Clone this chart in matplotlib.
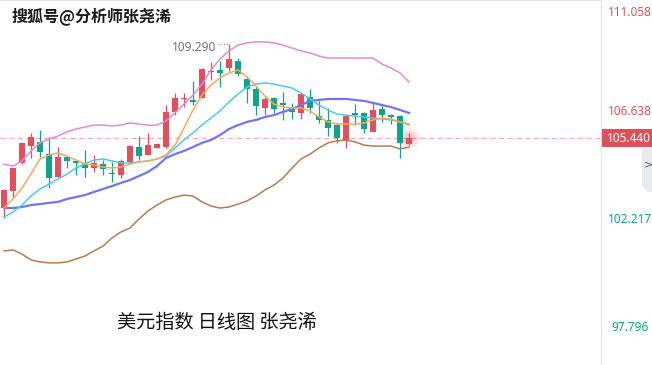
import numpy as np
import matplotlib
matplotlib.use("Agg")
import matplotlib.pyplot as plt
from matplotlib.patches import Rectangle, Polygon
import matplotlib.transforms as mtransforms

plt.rcParams['font.family'] = ['Noto Sans CJK SC', 'DejaVu Sans']

# daily candles
opens = [102.57, 103.27, 104.42, 105.11, 105.28, 104.78, 103.84, 104.66, 104.50, 104.42,
         104.21, 104.37, 104.01, 103.92, 104.46, 105.07, 104.74, 105.03, 105.07, 106.51,
         107.04, 107.00, 107.08, 108.15, 108.23, 108.31, 108.60, 107.86, 107.45, 106.67,
         107.08, 106.88, 106.67, 106.47, 107.12, 106.34, 106.18, 105.97, 105.32, 106.47,
         106.47, 105.69, 106.63, 106.38, 106.34, 105.19]
highs = [103.35, 104.21, 105.28, 105.65, 105.77, 105.48, 105.07, 104.70, 104.54, 104.95,
         104.74, 104.54, 104.46, 104.58, 105.15, 105.52, 105.65, 105.24, 106.79, 107.29,
         107.29, 107.78, 108.31, 108.56, 108.60, 109.29, 108.72, 107.98, 107.57, 107.12,
         107.12, 107.33, 106.88, 107.24, 107.45, 106.96, 106.67, 106.06, 106.34, 106.83,
         106.51, 106.88, 106.79, 106.42, 106.38, 105.65]
lows = [102.16, 103.02, 104.37, 104.62, 104.66, 103.39, 103.84, 104.21, 103.92, 103.84,
        104.05, 103.92, 103.64, 103.80, 104.37, 104.54, 104.74, 105.03, 105.03, 106.38,
        106.71, 106.79, 107.08, 107.82, 107.53, 108.19, 107.98, 106.88, 106.38, 106.38,
        106.47, 106.18, 106.22, 106.22, 106.47, 106.06, 105.52, 105.24, 105.03, 105.97,
        105.65, 105.69, 106.10, 106.01, 104.62, 105.15]
closes = [103.31, 104.21, 105.24, 105.48, 104.87, 103.80, 104.66, 104.50, 104.42, 104.21,
          104.42, 104.17, 103.96, 104.50, 105.11, 104.70, 105.15, 105.19, 106.51, 107.08,
          107.08, 106.92, 108.27, 108.19, 108.11, 108.68, 108.06, 107.45, 106.75, 107.04,
          106.63, 106.79, 106.51, 107.24, 106.67, 106.18, 105.85, 105.44, 106.34, 106.38,
          105.81, 106.59, 106.38, 106.30, 105.24, 105.44]

ma5 = [102.57, 102.94, 103.39, 103.96, 104.58, 104.74, 104.83, 104.70, 104.54, 104.37,
       104.33, 104.25, 104.21, 104.25, 104.37, 104.46, 104.50, 104.58, 104.74, 105.15,
       105.85, 106.59, 107.20, 107.61, 107.90, 108.11, 108.23, 107.94, 107.57, 107.16,
       106.83, 106.71, 106.67, 106.67, 106.55, 106.30, 106.10, 106.01, 106.01, 106.01,
       106.06, 106.18, 106.26, 106.22, 106.10, 105.97]
ma10 = [102.20, 102.41, 102.69, 103.06, 103.35, 103.55, 103.76, 103.96, 104.21, 104.37,
        104.54, 104.58, 104.50, 104.42, 104.42, 104.46, 104.50, 104.58, 104.70, 105.03,
        105.36, 105.65, 105.97, 106.26, 106.55, 106.92, 107.24, 107.53, 107.65, 107.70,
        107.65, 107.57, 107.49, 107.29, 107.04, 106.79, 106.59, 106.42, 106.38, 106.34,
        106.30, 106.26, 106.22, 106.18, 106.10, 106.01]
ma20 = [102.57, 102.57, 102.61, 102.69, 102.73, 102.78, 102.82, 102.94, 103.02, 103.10,
        103.23, 103.35, 103.47, 103.60, 103.72, 103.88, 104.05, 104.29, 104.62, 104.78,
        104.91, 105.07, 105.24, 105.36, 105.56, 105.81, 105.97, 106.10, 106.18, 106.30,
        106.38, 106.51, 106.63, 106.79, 106.96, 107.00, 107.04, 107.04, 107.04, 107.00,
        106.96, 106.88, 106.79, 106.71, 106.59, 106.47]
boll_up = [104.37, 104.29, 104.50, 104.91, 105.24, 105.40, 105.52, 105.69, 105.81, 105.89,
           105.97, 105.97, 105.93, 105.97, 106.06, 106.01, 105.97, 105.97, 106.14, 106.47,
           106.83, 107.20, 107.65, 108.23, 108.68, 109.01, 109.25, 109.34, 109.38, 109.38,
           109.34, 109.25, 109.13, 109.01, 108.93, 108.80, 108.72, 108.72, 108.72, 108.72,
           108.72, 108.72, 108.47, 108.31, 108.11, 107.74]
boll_dn = [100.81, 100.85, 100.68, 100.44, 100.36, 100.32, 100.32, 100.36, 100.48, 100.60,
           100.81, 101.01, 101.34, 101.59, 101.75, 102.12, 102.45, 102.69, 102.90, 103.02,
           103.10, 103.06, 102.82, 102.65, 102.57, 102.61, 102.73, 102.86, 103.06, 103.31,
           103.51, 103.80, 104.21, 104.58, 104.78, 105.03, 105.24, 105.32, 105.36, 105.28,
           105.15, 105.11, 105.11, 105.11, 104.99, 105.07]

last_price = 105.44
axis_ticks = [111.058, 106.638, 102.217, 97.796]
title = "搜狐号@分析师张尧浠"
caption = "美元指数 日线图 张尧浠"

RED = '#E0505B'
GREEN = '#0FA38A'

W, H = 652, 365
fig = plt.figure(figsize=(W / 100, H / 100), dpi=100)
ax = fig.add_axes([0, 0, 601 / W, 1])
n = len(closes)
x = np.arange(n)
ax.set_xlim(-4 / 9, 597 / 9)
ax.set_ylim(96.133, 111.098)

# candles
for i in range(n):
    col = RED if closes[i] >= opens[i] else GREEN
    ax.vlines(i, lows[i], highs[i], color=col, lw=0.9, zorder=3)
    lo = min(opens[i], closes[i])
    h = max(abs(closes[i] - opens[i]), 0.035)
    ax.add_patch(Rectangle((i - 0.37, lo), 0.74, h, fc=col, ec='none', zorder=3))

# moving averages + bollinger
ax.plot(x, boll_up, color='#E08AD8', lw=1.1, zorder=4)
ax.plot(x, boll_dn, color='#B87A52', lw=1.1, zorder=4)
ax.plot(x, ma20, color='#7474F2', lw=1.6, zorder=4)
ax.plot(x, ma10, color='#4ECAE4', lw=1.1, zorder=4)
ax.plot(x, ma5, color='#FFA65E', lw=1.1, zorder=4)

# last price line and glow
ax.axhline(last_price, color='#F6A9B0', lw=0.9, ls=(0, (4, 3)), zorder=1)
for s, a in [(260, 0.07), (150, 0.1), (80, 0.14)]:
    ax.scatter([n - 1], [last_price], s=s, color=RED, alpha=a, lw=0, zorder=2)

# highest point label
ipk = int(np.argmax(highs))
ax.annotate(f"{highs[ipk]:.3f}", xy=(ipk, highs[ipk]), xytext=(-13, -3.5),
            textcoords='offset pixels', ha='right', va='center',
            fontsize=8.5, color='#6E7079', family=['Noto Sans', 'DejaVu Sans'])
ax.plot([ipk - 1.2, ipk], [highs[ipk]] * 2, color='#8A8C95', lw=0.8,
        ls=(0, (1, 1.5)), zorder=2)

ax.set_xticks([])
ax.set_yticks([])
for k in ['left', 'bottom']:
    ax.spines[k].set_visible(False)
for k in ['top', 'right']:
    ax.spines[k].set_color('#E6E6E6')
    ax.spines[k].set_linewidth(1)

# right price scale
trans = mtransforms.blended_transform_factory(fig.transFigure, ax.transData)
lab_trans = mtransforms.offset_copy(trans, fig=fig, y=-3, units='dots')
for v in axis_ticks:
    col = RED if v > last_price else GREEN
    if v > ax.get_ylim()[1] - 0.3:
        fig.text(630 / W, v, f"{v:.3f}", transform=mtransforms.offset_copy(trans, fig=fig, y=-5, units='dots'),
                 ha='center', va='top', fontsize=8.5, color=col, family=['Noto Sans', 'DejaVu Sans'])
    else:
        fig.text(630 / W, v, f"{v:.3f}", transform=lab_trans, ha='center', va='center',
                 fontsize=8.5, color=col, family=['Noto Sans', 'DejaVu Sans'])

fig.patches.append(Rectangle((602 / W, last_price - 0.35), 50 / W, 0.70, transform=trans,
                             fc=RED, ec='none', zorder=5))
fig.text(629 / W, last_price, f"{last_price:.3f}",
         transform=mtransforms.offset_copy(trans, fig=fig, y=-1, units='dots'),
         ha='center', va='center', fontsize=8.5, color='white', zorder=6,
         family=['Noto Sans', 'DejaVu Sans'])

# collapse tab
tab = [(642, 148), (652, 148), (652, 192), (648, 192), (642, 186)]
fig.patches.append(Polygon([(px / W, 1 - py / H) for px, py in tab], closed=True,
                           transform=fig.transFigure, fc='#E9EAED', ec='none'))
fig.text(644 / W, 1 - 164 / H, ">", ha='left', va='center', fontsize=8, color='#555555',
         family=['DejaVu Sans'])

fig.text(12 / W, 1 - 16 / H, title, ha='left', va='center', fontsize=11.5,
         weight='bold', color='#1A1A1A')
fig.text(117 / W, 1 - 322 / H, caption, ha='left', va='center', fontsize=13.8,
         color='#111111')

fig.savefig("out.png", dpi=100)
